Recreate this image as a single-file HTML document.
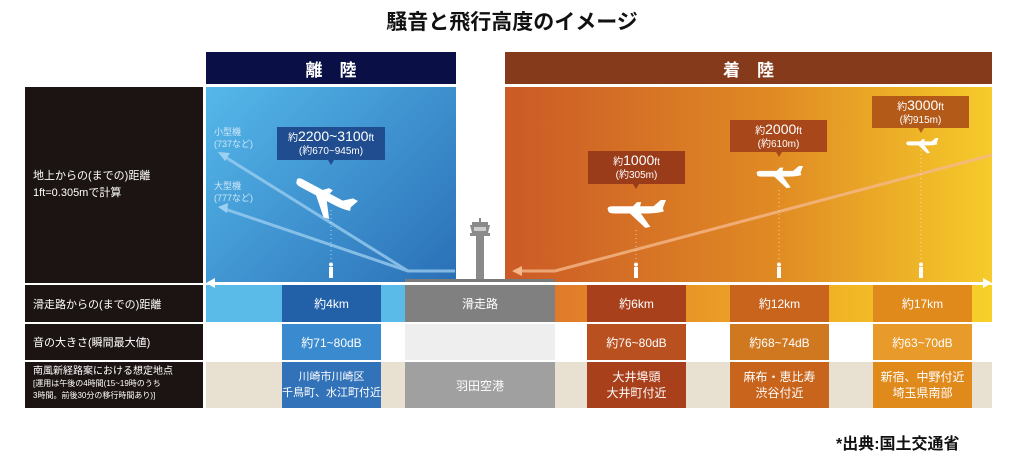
<!DOCTYPE html>
<html><head><meta charset="utf-8"><style>
*{margin:0;padding:0;box-sizing:border-box}
body{width:1024px;height:457px;background:#fff;position:relative;overflow:hidden;font-family:"Liberation Sans","Noto Sans CJK JP",sans-serif}
.a{position:absolute}
.c{display:flex;align-items:center;justify-content:center;text-align:center;color:#fff;white-space:nowrap}
.lbl{color:#fff;font-size:11px;padding-left:8px;display:flex;align-items:center;background:#1c1412}
.cell{font-size:12px}
.tag{position:absolute;color:#fff;font-size:10px;text-align:center;line-height:13px;padding-top:3px}
.tag b{font-size:14px;font-weight:normal}
</style></head><body>
<div class="a" style="left:0;top:6px;width:1024px;text-align:center;font-size:21px;color:#111;font-weight:bold">騒音と飛行高度のイメージ</div>

<div class="a c" style="left:206px;top:52px;width:250px;height:32px;background:#0a1045;font-size:17px;font-weight:bold">離　陸</div>
<div class="a c" style="left:505px;top:52px;width:487px;height:32px;background:#853a1c;font-size:17px;font-weight:bold">着　陸</div>

<div class="a lbl" style="left:25px;top:87px;width:178px;height:196px;line-height:17px">地上からの(までの)距離<br>1ft=0.305mで計算</div>
<div class="a lbl" style="left:25px;top:285px;width:178px;height:37px">滑走路からの(までの)距離</div>
<div class="a lbl" style="left:25px;top:324px;width:178px;height:36px">音の大きさ(瞬間最大値)</div>
<div class="a lbl" style="left:25px;top:362px;width:178px;height:46px;font-size:10px;line-height:12px;display:block;padding-top:4px">南風新経路案における想定地点<br><span style="font-size:8px">[運用は午後の4時間(15~19時のうち<br>3時間。前後30分の移行時間あり)]</span></div>

<div class="a" style="left:206px;top:87px;width:250px;height:196px;background:linear-gradient(135deg,#55b8ea,#2a6fb6)"></div>
<div class="a" style="left:505px;top:87px;width:487px;height:196px;background:linear-gradient(90deg,#cb5a27,#e08a24 55%,#f6cb2a)"></div>

<div class="a" style="left:206px;top:285px;width:199px;height:37px;background:#5bbbe8"></div>
<div class="a" style="left:555px;top:285px;width:437px;height:37px;background:linear-gradient(90deg,#e07a2a,#f0b024 60%,#f7d02a)"></div>
<div class="a" style="left:206px;top:362px;width:786px;height:46px;background:#e8e0d0"></div>

<div class="a c cell" style="left:282px;top:285px;width:99px;height:37px;background:#2260a8">約4km</div>
<div class="a c cell" style="left:405px;top:285px;width:150px;height:37px;background:#808080">滑走路</div>
<div class="a c cell" style="left:587px;top:285px;width:99px;height:37px;background:#a8401c">約6km</div>
<div class="a c cell" style="left:730px;top:285px;width:99px;height:37px;background:#c8641c">約12km</div>
<div class="a c cell" style="left:873px;top:285px;width:99px;height:37px;background:#e08a1c">約17km</div>

<div class="a c cell" style="left:282px;top:324px;width:99px;height:36px;background:#3a8ad0">約71~80dB</div>
<div class="a c cell" style="left:405px;top:324px;width:150px;height:36px;background:#eeeeee"></div>
<div class="a c cell" style="left:587px;top:324px;width:99px;height:36px;background:#b85020">約76~80dB</div>
<div class="a c cell" style="left:730px;top:324px;width:99px;height:36px;background:#d07820">約68~74dB</div>
<div class="a c cell" style="left:873px;top:324px;width:99px;height:36px;background:#e89a2a">約63~70dB</div>

<div class="a c cell" style="left:282px;top:362px;width:99px;height:46px;background:#3272b8;line-height:16px;font-size:11px">川崎市川崎区<br>千鳥町、水江町付近</div>
<div class="a c cell" style="left:405px;top:362px;width:150px;height:46px;background:#a0a0a0">羽田空港</div>
<div class="a c cell" style="left:587px;top:362px;width:99px;height:46px;background:#a8401c;line-height:16px">大井埠頭<br>大井町付近</div>
<div class="a c cell" style="left:730px;top:362px;width:99px;height:46px;background:#c8641c;line-height:16px">麻布・恵比寿<br>渋谷付近</div>
<div class="a c cell" style="left:873px;top:362px;width:99px;height:46px;background:#e08a1c;line-height:16px">新宿、中野付近<br>埼玉県南部</div>

<svg class="a" style="left:0;top:0" width="1024" height="457">
<defs>
<symbol id="pl" viewBox="0 0 60 28"><path fill="#fff" d="M2,10 Q0,6 7,6 L46,6 L53,0 L58,0 L55,8 L56,11 Q50,13 40,13 L8,13 Q2,13 2,10Z M22,12 L33,12 L43,26 L38,27Z M26,6 L30,2 L34,2 L33,6Z"/></symbol>
<symbol id="pp" viewBox="0 0 6 16"><circle cx="3" cy="2" r="2" fill="#fff"/><rect x="1" y="4.5" width="4" height="11" fill="#fff"/></symbol>
</defs>
<rect x="405" y="279" width="150" height="5" fill="#7a7a7a"/>
<g fill="#8a8a8a"><rect x="479" y="218" width="2" height="4"/><rect x="472" y="222" width="16" height="3"/><path d="M470,225 L490,225 L488,233 L472,233Z"/><rect x="470" y="233" width="20" height="3"/><rect x="476" y="236" width="8" height="43"/></g>
<rect x="474" y="227" width="12" height="4" fill="#ccc"/>
<line x1="210" y1="283" x2="988" y2="283" stroke="#fff" stroke-width="2"/>
<polygon points="206,283 215,278 215,288" fill="#fff"/><polygon points="992,283 983,278 983,288" fill="#fff"/>
<g stroke="#9fd0f2" stroke-width="3" fill="none" opacity="0.75"><path d="M455,271 L408,271 L222,155"/><path d="M408,271 L222,208"/></g>
<polygon points="218,152 230,153 225,161" fill="#9fd0f2"/><polygon points="218,207 228,203 227,213" fill="#9fd0f2"/>
<path d="M992,155 L555,271 L515,271" stroke="#f4b88a" stroke-width="3" fill="none" opacity="0.8"/>
<polygon points="512,271 522,266 522,276" fill="#f4b88a"/>
<g stroke="#fff" stroke-dasharray="1,3" opacity="0.6"><line x1="331" y1="210" x2="331" y2="262"/><line x1="636" y1="230" x2="636" y2="262"/><line x1="779" y1="190" x2="779" y2="262"/><line x1="921" y1="150" x2="921" y2="262"/></g>
<use href="#pl" x="0" y="0" width="68" height="32" transform="translate(300,170) rotate(28)"/>
<use href="#pl" x="606" y="200" width="62" height="29"/>
<use href="#pl" x="755" y="166" width="50" height="23"/>
<use href="#pl" x="905" y="138" width="35" height="16"/>
<use href="#pp" x="328" y="262" width="6" height="17"/>
<use href="#pp" x="633" y="262" width="6" height="17"/>
<use href="#pp" x="776" y="262" width="6" height="17"/>
<use href="#pp" x="918" y="262" width="6" height="17"/>
<polygon points="328,160 334,160 331,165" fill="#1f4d8f"/>
<polygon points="633,184 639,184 636,189" fill="#9a3b1a"/>
<polygon points="776,152 782,152 779,157" fill="#a8481a"/>
<polygon points="918,128 924,128 921,133" fill="#b45a18"/>
</svg>
<div class="tag" style="left:277px;top:127px;width:108px;height:33px;background:#1f4d8f"><span>約<b>2200~3100</b>ft</span><br>(約670~945m)</div>
<div class="a" style="left:214px;top:126px;color:#cfe8fa;font-size:9px;line-height:12px">小型機<br>(737など)</div>
<div class="a" style="left:214px;top:180px;color:#cfe8fa;font-size:9px;line-height:12px">大型機<br>(777など)</div>
<div class="tag" style="left:588px;top:151px;width:97px;height:33px;background:#9a3b1a">約<b>1000</b>ft<br>(約305m)</div>
<div class="tag" style="left:730px;top:120px;width:97px;height:32px;background:#a8481a">約<b>2000</b>ft<br>(約610m)</div>
<div class="tag" style="left:872px;top:96px;width:97px;height:32px;background:#b45a18">約<b>3000</b>ft<br>(約915m)</div>

<div class="a" style="left:836px;top:430px;font-size:16px;color:#111;font-weight:bold">*出典:国土交通省</div>
</body></html>
